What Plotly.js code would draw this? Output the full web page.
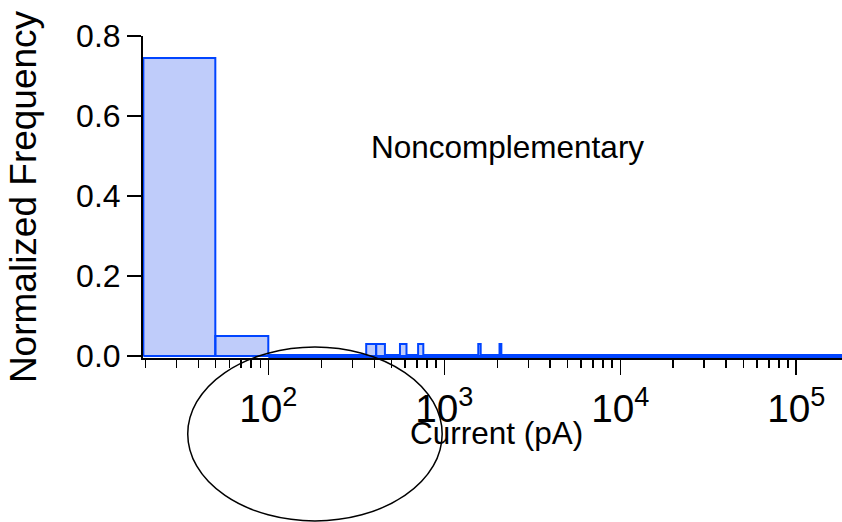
<!DOCTYPE html>
<html>
<head>
<meta charset="utf-8">
<script src="https://cdn.plot.ly/plotly-3.0.1.min.js"></script>
<style>html,body{margin:0;padding:0;background:#fff;}#chart{width:842px;height:522px;}</style>
</head>
<body>
<div id="chart"></div>
<script>
// Histogram bins (pA) and normalized frequencies
var binLeft  = [19.5, 50, 360, 410, 560, 710, 1560, 2060];
var binRight = [50, 100, 410, 460, 610, 760, 1610, 2110];
var freq     = [0.745, 0.05, 0.03, 0.03, 0.03, 0.03, 0.03, 0.03];
// Range covered by the empty (zero-height) bins drawn as a baseline
var emptyStart = 100, emptyEnd = 200000;
var yTicks = [0, 0.2, 0.4, 0.6, 0.8];
var labelText = 'Noncomplementary';
var xTitle = 'Current (pA)';
var yTitle = 'Normalized Frequency';

var bx = [], by = [];
for (var i = 0; i < freq.length; i++) {
  bx.push(binLeft[i], binLeft[i], binRight[i], binRight[i], binLeft[i], null);
  by.push(0, freq[i], freq[i], 0, 0, null);
}

var FONT = 'Liberation Sans, Arial, sans-serif';
var blue = 'rgb(0,68,255)';

var traces = [
  {x: [emptyStart, emptyEnd], y: [0, 0], mode: 'lines', type: 'scatter',
   line: {color: blue, width: 4}, hoverinfo: 'skip', showlegend: false},
  {x: bx, y: by, mode: 'lines', type: 'scatter', fill: 'toself',
   fillcolor: 'rgb(191,204,250)', line: {color: blue, width: 2},
   connectgaps: false, showlegend: false}
];

var layout = {
  width: 842, height: 522,
  margin: {l: 143, r: 0, t: 36, b: 164, pad: 0},
  paper_bgcolor: '#fff', plot_bgcolor: '#fff',
  font: {family: FONT, color: '#000', size: 31},
  showlegend: false,
  xaxis: {
    type: 'log', range: [1.288, 5.26],
    showgrid: false, zeroline: false,
    showline: true, linecolor: '#000', linewidth: 2,
    ticks: 'outside', ticklen: 15, tickwidth: 1.5, tickcolor: '#000',
    dtick: 1, exponentformat: 'power',
    tickfont: {family: FONT, size: 31, color: '#000'},
    ticklabelstandoff: 2,
    minor: {ticks: 'outside', ticklen: 8, tickwidth: 1.5, tickcolor: '#000', dtick: 'D1', showgrid: false}
  },
  yaxis: {
    range: [-0.005, 0.8],
    showgrid: false, zeroline: false,
    showline: true, linecolor: '#000', linewidth: 2,
    ticks: 'outside', ticklen: 14, tickwidth: 1.5, tickcolor: '#000',
    tickvals: yTicks, tickformat: '.1f',
    tickfont: {family: FONT, size: 32, color: '#000'},
    layer: 'below traces',
    title: {text: yTitle, font: {family: FONT, size: 37, color: '#000'}, standoff: 28}
  },
  annotations: [{
    text: labelText, xref: 'paper', yref: 'paper', x: 0.522, y: 0.655,
    showarrow: false, xanchor: 'center', yanchor: 'middle',
    font: {family: FONT, size: 31.5, color: '#000'}
  }, {
    text: xTitle, xref: 'paper', yref: 'paper', x: 0.506, y: -0.232,
    showarrow: false, xanchor: 'center', yanchor: 'middle',
    font: {family: FONT, size: 31.5, color: '#000'}
  }],
  shapes: [{
    type: 'circle', xref: 'paper', yref: 'paper',
    x0: 0.064, x1: 0.428, y0: -0.506, y1: 0.034,
    line: {color: '#000', width: 1.5}
  }]
};

Plotly.newPlot('chart', traces, layout, {displayModeBar: false, staticPlot: true});
</script>
</body>
</html>
